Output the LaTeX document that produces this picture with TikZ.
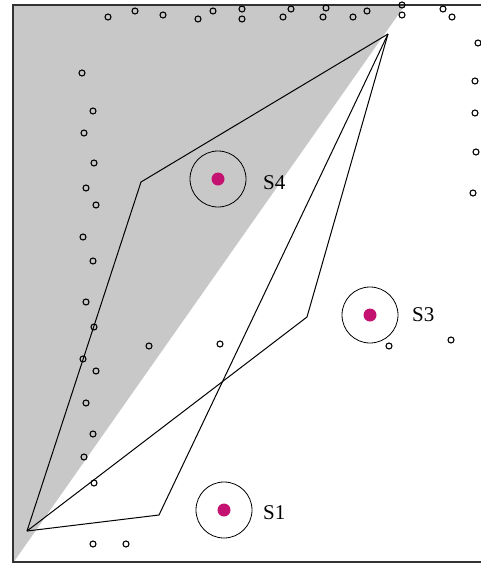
\documentclass[tikz,border=0pt]{standalone}
\usepackage{fontspec}
\setmainfont{Liberation Serif}
\definecolor{sensorcol}{RGB}{196,18,112}
\definecolor{shadegray}{RGB}{200,200,200}
\tikzset{
  ptc/.style={circle,draw=black,line width=1.1pt,minimum size=6pt,inner sep=0pt},
  rangecirc/.style={circle,draw=black,line width=0.8pt,minimum size=56pt,inner sep=0pt},
  sdot/.style={circle,fill=sensorcol,minimum size=13pt,inner sep=0pt},
  lbl/.style={anchor=west,font=\fontsize{21}{23}\selectfont,inner sep=0pt},
  routeline/.style={line width=1pt,black},
  framelines/.style={line width=1.8pt,black!80}
}
\begin{document}
\begin{tikzpicture}[x=1pt,y=-1pt]
\useasboundingbox (0,0) rectangle (481,563);
% shaded region
\fill[shadegray] (13,5) -- (405,5) -- (13,563) -- cycle;
% frame
\draw[framelines] (481,5) -- (13,5) -- (13,562) -- (481,562);
% small points
\foreach \x/\y [count=\i] in {108/17,135/11,163/15,198/19,213/11,242/9,242/19,283/17,291/9,326/8,323/17,353/17,367/11,402/5,402/15,443/9,452/17,
  478/43,475/81,475/113,476/152,473/193,
  82/73,93/111,84/133,94/163,86/188,96/205,83/237,93/261,86/302,94/327,83/359,96/371,86/403,93/434,84/457,94/483,
  93/544,126/544,149/346,220/344,389/346,451/340}
  \node[ptc] (p\i) at (\x,\y) {};
% sensors
\node[rangecirc] (r4) at (218,179) {};
\node[sdot] (s4) at (218,179) {};
\node[lbl] (l4) at (263,183) {S4};
\node[rangecirc] (r3) at (370,315) {};
\node[sdot] (s3) at (370,315) {};
\node[lbl] (l3) at (412,315) {S3};
\node[rangecirc] (r1) at (224,510) {};
\node[sdot] (s1) at (224,510) {};
\node[lbl] (l1) at (263,513) {S1};
% paths
\coordinate (P) at (388,34);
\coordinate (Q) at (27,531);
\coordinate (A) at (141,182);
\coordinate (B) at (307,317);
\coordinate (C) at (159,515);
\draw[routeline] (P) -- (A) -- (Q);
\draw[routeline] (P) -- (B) -- (Q);
\draw[routeline] (P) -- (C) -- (Q);
\end{tikzpicture}
\end{document}
